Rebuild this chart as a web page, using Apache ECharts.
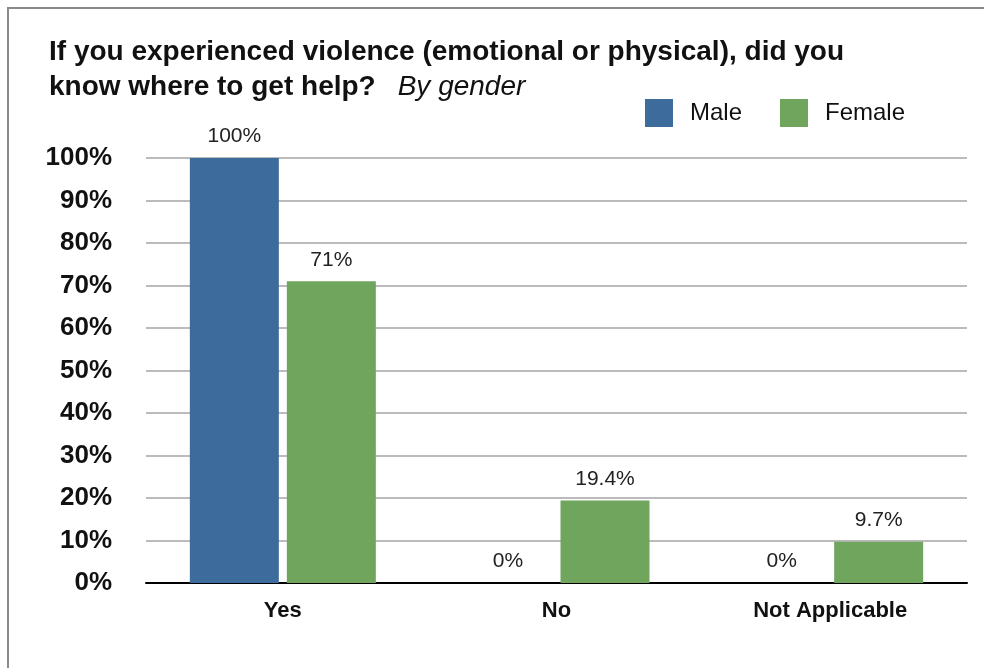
<!DOCTYPE html>
<html><head><meta charset="utf-8">
<script src="https://cdn.jsdelivr.net/npm/echarts@6/dist/echarts.min.js"></script>
<style>html,body{margin:0;padding:0;background:#fff}#c{width:984px;height:668px}</style>
</head><body><div id="c"></div>
<script>
const categories = ['Yes', 'No', 'Not Applicable'];
const maleValues = [100, 0, 0];
const femaleValues = [71, 19.4, 9.7];
const seriesNames = ['Male', 'Female'];
const FONT = '"Liberation Sans", Arial, Helvetica, sans-serif';
const chart = echarts.init(document.getElementById('c'));
const labelCfg = {show: true, position: 'top', distance: 11, formatter: '{c}%', fontFamily: FONT, fontSize: 21, color: '#222'};
chart.setOption({
  animation: false,
  graphic: [{type: 'rect', shape: {x: 8, y: 8, width: 1000, height: 700}, style: {fill: 'none', stroke: '#8a8a8a', lineWidth: 2}}],
  title: {
    left: 44, top: 30,
    text: '{b|If you experienced violence (emotional or physical), did you}\n{b|know where to get help?}{s| }{i|By gender}',
    textStyle: {
      rich: {
        b: {fontFamily: FONT, fontSize: 28, fontWeight: 'bold', color: '#111', lineHeight: 35},
        s: {fontFamily: FONT, fontSize: 28, width: 22, lineHeight: 35},
        i: {fontFamily: FONT, fontSize: 28, fontStyle: 'italic', fontWeight: 'normal', color: '#111', lineHeight: 35}
      }
    }
  },
  legend: {
    left: 640, top: 94, itemWidth: 28, itemHeight: 28, itemGap: 38, icon: 'rect',
    textStyle: {fontFamily: FONT, fontSize: 24, color: '#111', padding: [0, 0, 0, 12]},
    data: seriesNames
  },
  grid: {left: 146, right: 17, top: 158, bottom: 85},
  xAxis: {
    type: 'category', data: categories,
    axisLine: {lineStyle: {color: '#000', width: 2}},
    axisTick: {show: false},
    axisLabel: {fontFamily: FONT, fontSize: 22, fontWeight: 'bold', color: '#111', margin: 17}
  },
  yAxis: {
    type: 'value', min: 0, max: 100, interval: 10,
    axisLine: {show: false}, axisTick: {show: false},
    axisLabel: {formatter: '{value}%', fontFamily: FONT, fontSize: 26, fontWeight: 'bold', color: '#111', margin: 34},
    splitLine: {lineStyle: {color: '#bbbbbb', width: 2}}
  },
  series: [
    {name: seriesNames[0], type: 'bar', data: maleValues, barWidth: 89, barGap: '9%', itemStyle: {color: '#3d6b9c'}, label: labelCfg},
    {name: seriesNames[1], type: 'bar', data: femaleValues, barWidth: 89, itemStyle: {color: '#6fa55c'}, label: labelCfg}
  ]
});
</script></body></html>
